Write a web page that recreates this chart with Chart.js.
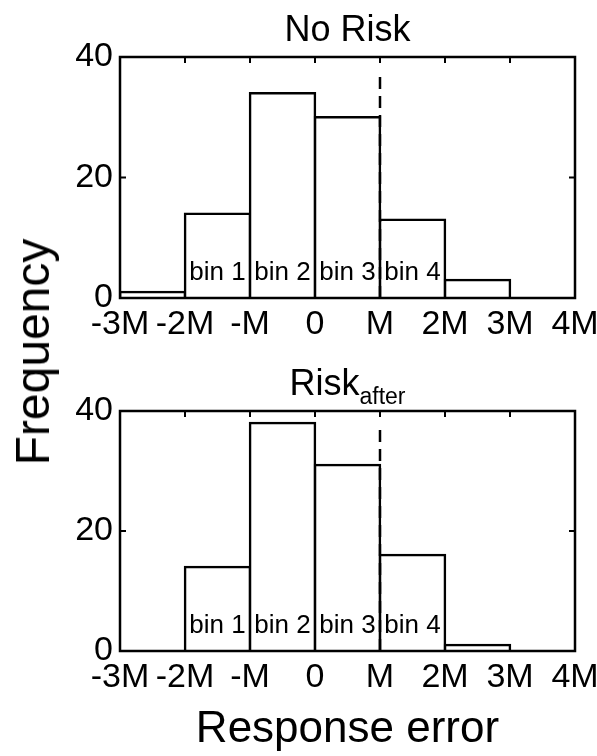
<!DOCTYPE html>
<html>
<head>
<meta charset="utf-8">
<script src="https://cdn.jsdelivr.net/npm/chart.js@4.4.1/dist/chart.umd.min.js"></script>
<style>
  body { margin: 0; background: #fff; }
  #wrap { position: relative; width: 597px; height: 756px; overflow: hidden; }
  #topChart { position: absolute; left: 0; top: 0; }
  #bottomChart { position: absolute; left: 0; top: 350px; }
  #ylabel {
    position: absolute; left: 33px; top: 352px;
    font: 48px 'Liberation Sans', Arial, sans-serif; line-height: 48px;
    transform: translate(-50%, -50%) rotate(-90deg); white-space: nowrap; color: #000;
  }
</style>
</head>
<body>
<div id="wrap">
  <canvas id="topChart" width="660" height="350"></canvas>
  <canvas id="bottomChart" width="660" height="406"></canvas>
  <div id="ylabel">Frequency</div>
</div>
<script>
// histogram bins, in units of M
const binEdges = [-3, -2, -1, 0, 1, 2, 3, 4];
const xTickLabels = ['-3M', '-2M', '-M', '0', 'M', '2M', '3M', '4M'];
const noRiskCounts = [1, 14, 34, 30, 13, 3, 0];
const riskAfterCounts = [0, 14, 38, 31, 16, 1, 0];
const binNames = ['bin 1', 'bin 2', 'bin 3', 'bin 4'];
const namedBins = [1, 2, 3, 4];
const cutoff = 1;
const cutoffTop = 37;

Chart.defaults.font.family = "'Liberation Sans', Arial, sans-serif";
Chart.defaults.color = '#000';

// box frame, inward ticks, bin names and panel title
const framePlugin = {
  id: 'frame',
  afterDatasetsDraw(chart, args, opts) {
    const { ctx, chartArea: a, scales: { x, y } } = chart;
    ctx.save();
    ctx.strokeStyle = '#000';
    ctx.lineWidth = 2.5;
    ctx.strokeRect(a.left, a.top, a.right - a.left, a.bottom - a.top);

    const tl = 6;
    ctx.lineWidth = 2;
    ctx.beginPath();
    x.ticks.forEach(t => {
      const px = x.getPixelForValue(t.value);
      ctx.moveTo(px, a.top); ctx.lineTo(px, a.top + tl);
      ctx.moveTo(px, a.bottom); ctx.lineTo(px, a.bottom - tl);
    });
    y.ticks.forEach(t => {
      const py = y.getPixelForValue(t.value);
      ctx.moveTo(a.left, py); ctx.lineTo(a.left + tl, py);
      ctx.moveTo(a.right, py); ctx.lineTo(a.right - tl, py);
    });
    ctx.stroke();

    ctx.fillStyle = '#000';
    ctx.textAlign = 'center';
    ctx.textBaseline = 'alphabetic';
    ctx.font = "26px 'Liberation Sans', Arial, sans-serif";
    namedBins.forEach((b, i) => {
      const cx = x.getPixelForValue((binEdges[b] + binEdges[b + 1]) / 2);
      ctx.fillText(binNames[i], cx, y.getPixelForValue(0) - 18);
    });

    // title with optional subscript
    const mainFont = "36px 'Liberation Sans', Arial, sans-serif";
    const subFont = "23px 'Liberation Sans', Arial, sans-serif";
    ctx.font = mainFont;
    const wMain = ctx.measureText(opts.text).width;
    ctx.font = subFont;
    const wSub = opts.sub ? ctx.measureText(opts.sub).width : 0;
    const x0 = (a.left + a.right) / 2 - (wMain + wSub) / 2;
    const base = a.top - 16;
    ctx.textAlign = 'left';
    ctx.font = mainFont;
    ctx.fillText(opts.text, x0, base);
    if (opts.sub) {
      ctx.font = subFont;
      ctx.fillText(opts.sub, x0 + wMain, base + 9);
    }
    ctx.restore();
  }
};

function histogram(canvasId, counts, padTop, axisHeight, title, sub, xTitle) {
  return new Chart(document.getElementById(canvasId), {
    type: 'bar',
    data: {
      datasets: [
        {
          type: 'line',
          data: [{ x: cutoff, y: 0 }, { x: cutoff, y: cutoffTop }],
          borderColor: '#000',
          borderWidth: 2.5,
          borderDash: [12, 7],
          pointRadius: 0,
          order: 0
        },
        {
          type: 'bar',
          data: counts.map((c, i) => ({ x: (binEdges[i] + binEdges[i + 1]) / 2, y: c })),
          backgroundColor: '#fff',
          borderColor: '#000',
          borderWidth: 2.5,
          inflateAmount: 1.25,
          barPercentage: 1,
          categoryPercentage: 1,
          order: 1
        }
      ]
    },
    options: {
      responsive: false,
      animation: false,
      // canvas is wider than the page so the last tick label can run off the edge
      layout: { autoPadding: false, padding: { top: padTop, right: 85, left: 0, bottom: 0 } },
      plugins: {
        legend: { display: false },
        tooltip: { enabled: false },
        frame: { text: title, sub: sub }
      },
      scales: {
        x: {
          type: 'linear',
          min: -3,
          max: 4,
          offset: false,
          grid: { display: false, drawTicks: false },
          border: { display: false },
          ticks: {
            stepSize: 1,
            autoSkip: false,
            maxRotation: 0,
            padding: 6,
            font: { size: 34 },
            callback: v => xTickLabels[binEdges.indexOf(v)] ?? ''
          },
          title: {
            display: !!xTitle,
            text: xTitle,
            font: { size: 44 },
            padding: { top: 0, bottom: 0 }
          },
          afterFit: s => { s.height = axisHeight; }
        },
        y: {
          min: 0,
          max: 40,
          grid: { display: false, drawTicks: false },
          border: { display: false },
          ticks: { stepSize: 20, padding: 7, font: { size: 34 } },
          afterFit: s => { s.width = 120; }
        }
      }
    },
    plugins: [framePlugin]
  });
}

histogram('topChart', noRiskCounts, 57, 52, 'No Risk', '', '');
histogram('bottomChart', riskAfterCounts, 61, 105, 'Risk', 'after', 'Response error');
</script>
</body>
</html>
